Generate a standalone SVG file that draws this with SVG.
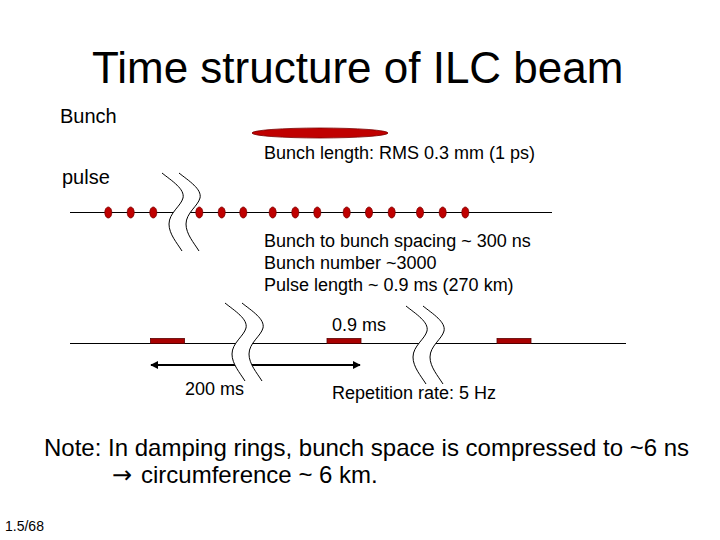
<svg xmlns="http://www.w3.org/2000/svg" xmlns:xlink="http://www.w3.org/1999/xlink" width="720" height="540" viewBox="0 0 720 540">
<style>
text { font-family: "Liberation Sans", Arial, sans-serif; fill: #000; }
.t18 { font-size: 18px; }
.lbl { font-size: 20px; }
.bunch { fill: #c00000; stroke: #7a0000; stroke-width: 0.8; }
.pulse { fill: #a80000; stroke: #5a0000; stroke-width: 0.8; }
.axis { stroke: #000; stroke-width: 1; fill: none; }
.wave { fill: none; stroke: #000; stroke-width: 1; }
</style>
<defs>
<g id="brk">
<path d="M0,0 C10,8 23,16 21,25 C19,33 7,40 7,51 C7,61 15,70 20,78 L37,78 C32,70 24,61 24,51 C24,40 36,33 38,25 C40,16 27,8 17,0 Z" fill="#fff" stroke="none"/>
<path class="wave" d="M0,0 C10,8 23,16 21,25 C19,33 7,40 7,51 C7,61 15,70 20,78"/>
<path class="wave" d="M17,0 C27,8 40,16 38,25 C36,33 24,40 24,51 C24,61 32,70 37,78"/>
</g>
<marker id="ah" viewBox="0 0 10 10" refX="9" refY="5" markerWidth="4" markerHeight="4" orient="auto-start-reverse" markerUnits="strokeWidth">
<path d="M0,0 L10,5 L0,10 Z" fill="#000"/>
</marker>
</defs>
<rect width="720" height="540" fill="#fff"/>

<g id="title"><text x="92" y="83" font-size="44">Time structure of ILC beam</text></g>

<g id="bunch-section">
<text x="60" y="123" class="lbl">Bunch</text>
<ellipse class="bunch" cx="320" cy="133" rx="68" ry="5"/>
<text x="264" y="159" class="t18">Bunch length: RMS 0.3 mm (1 ps)</text>
</g>

<g id="pulse-section">
<text x="62" y="184" class="lbl">pulse</text>
<line class="axis" x1="70" y1="212.5" x2="552" y2="212.5"/>
<g id="bunches">
<ellipse class="bunch" cx="108.3" cy="212.5" rx="3.5" ry="5.5"/>
<ellipse class="bunch" cx="130.7" cy="212.5" rx="3.5" ry="5.5"/>
<ellipse class="bunch" cx="153.3" cy="212.5" rx="3.5" ry="5.5"/>
<ellipse class="bunch" cx="199.3" cy="212.5" rx="3.5" ry="5.5"/>
<ellipse class="bunch" cx="221.7" cy="212.5" rx="3.5" ry="5.5"/>
<ellipse class="bunch" cx="243.3" cy="212.5" rx="3.5" ry="5.5"/>
<ellipse class="bunch" cx="272.7" cy="212.5" rx="3.5" ry="5.5"/>
<ellipse class="bunch" cx="295.3" cy="212.5" rx="3.5" ry="5.5"/>
<ellipse class="bunch" cx="317.3" cy="212.5" rx="3.5" ry="5.5"/>
<ellipse class="bunch" cx="346.7" cy="212.5" rx="3.5" ry="5.5"/>
<ellipse class="bunch" cx="369" cy="212.5" rx="3.5" ry="5.5"/>
<ellipse class="bunch" cx="391.7" cy="212.5" rx="3.5" ry="5.5"/>
<ellipse class="bunch" cx="420" cy="212.5" rx="3.5" ry="5.5"/>
<ellipse class="bunch" cx="442.7" cy="212.5" rx="3.5" ry="5.5"/>
<ellipse class="bunch" cx="465.3" cy="212.5" rx="3.5" ry="5.5"/>
</g>
<use xlink:href="#brk" href="#brk" transform="translate(162,173)"/>
<text class="t18" x="264" y="247">Bunch to bunch spacing ~ 300 ns</text>
<text class="t18" x="264" y="269">Bunch number ~3000</text>
<text class="t18" x="264" y="291">Pulse length ~ 0.9 ms (270 km)</text>
</g>

<g id="train-section">
<line class="axis" x1="70" y1="343.5" x2="626" y2="343.5"/>
<rect class="pulse" x="150.5" y="338.5" width="34" height="5"/>
<rect class="pulse" x="327" y="338.5" width="34" height="5"/>
<rect class="pulse" x="497" y="338.5" width="34" height="5"/>
<text class="t18" x="332" y="331">0.9 ms</text>
</g>

<g id="connectors">
<line x1="151" y1="365" x2="360" y2="365" stroke="#000" stroke-width="2" marker-start="url(#ah)" marker-end="url(#ah)"/>
</g>

<g id="breaks">
<use xlink:href="#brk" href="#brk" transform="translate(225,303)"/>
<use xlink:href="#brk" href="#brk" transform="translate(406,306)"/>
</g>

<g id="labels">
<text class="t18" x="185" y="395">200 ms</text>
<text class="t18" x="332" y="399">Repetition rate: 5 Hz</text>
</g>

<g id="note">
<text x="44" y="456" font-size="24">Note: In damping rings, bunch space is compressed to ~6 ns</text>
<text x="112" y="483" font-size="24"><tspan font-family="'DejaVu Sans', sans-serif" font-size="24">→</tspan><tspan x="141">circumference ~ 6 km.</tspan></text>
</g>

<g id="footer"><text x="5" y="531" font-size="14">1.5/68</text></g>
</svg>
